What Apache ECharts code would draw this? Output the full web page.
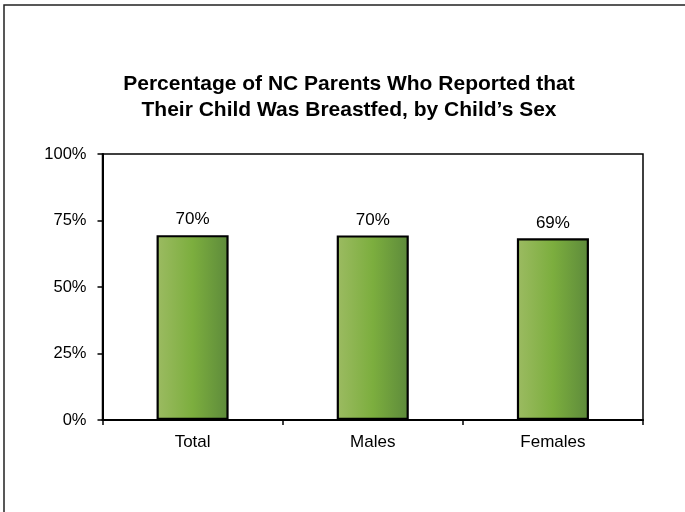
<!DOCTYPE html>
<html>
<head>
<meta charset="utf-8">
<script src="https://cdn.jsdelivr.net/npm/echarts@6/dist/echarts.min.js"></script>
<style>
html,body{margin:0;padding:0;background:#fff;}
#c{width:685px;height:512px;}
</style>
</head>
<body>
<div id="c"></div>
<script>
const categories = ['Total', 'Males', 'Females'];
const values = [69.5, 69.4, 68.3];
const valueLabels = ['70%', '70%', '69%'];
const yTicks = [0, 25, 50, 75, 100];

const chart = echarts.init(document.getElementById('c'), null, {renderer: 'canvas'});
const font = '"Liberation Sans", Arial, sans-serif';
chart.setOption({
  animation: false,
  backgroundColor: '#fff',
  title: {
    text: 'Percentage of NC Parents Who Reported that\nTheir Child Was Breastfed, by Child\u2019s Sex',
    left: 344,
    textAlign: 'center',
    top: 66,
    textStyle: {fontFamily: font, fontSize: 21, fontWeight: 'bold', color: '#000', lineHeight: 26}
  },
  graphic: [{
    type: 'rect', silent: true,
    shape: {x: 4, y: 5, width: 720, height: 600},
    style: {fill: 'none', stroke: '#222', lineWidth: 1.5}
  }],
  grid: {left: 102.5, right: 42, top: 154, bottom: 92, show: true, borderColor: '#000', borderWidth: 1.5, containLabel: false},
  xAxis: {
    type: 'category',
    data: categories,
    boundaryGap: true,
    axisLine: {lineStyle: {color: '#000', width: 2}},
    axisTick: {show: true, length: 5, alignWithLabel: false, lineStyle: {color: '#000', width: 1.5}},
    axisLabel: {fontFamily: font, fontSize: 17, color: '#000', margin: 14}
  },
  yAxis: {
    type: 'value',
    min: 0, max: 100, interval: 25,
    splitLine: {show: false},
    axisLine: {show: true, lineStyle: {color: '#000', width: 2}},
    axisTick: {show: true, length: 5, lineStyle: {color: '#000', width: 1.5}},
    axisLabel: {fontFamily: font, fontSize: 16.5, color: '#000', margin: 16,
      formatter: v => yTicks.includes(v) ? v + '%' : ''}
  },
  series: [{
    type: 'bar',
    data: values,
    barWidth: '40%',
    itemStyle: {
      color: new echarts.graphic.LinearGradient(0, 0, 1, 0, [
        {offset: 0, color: '#9cbb62'},
        {offset: 0.5, color: '#7cae3e'},
        {offset: 1, color: '#5d8a3b'}
      ]),
      borderColor: '#000',
      borderWidth: 2.2
    },
    label: {
      show: true, position: 'top', distance: 7,
      fontFamily: font, fontSize: 17, color: '#000',
      formatter: p => valueLabels[p.dataIndex]
    }
  }]
});
</script>
</body>
</html>
